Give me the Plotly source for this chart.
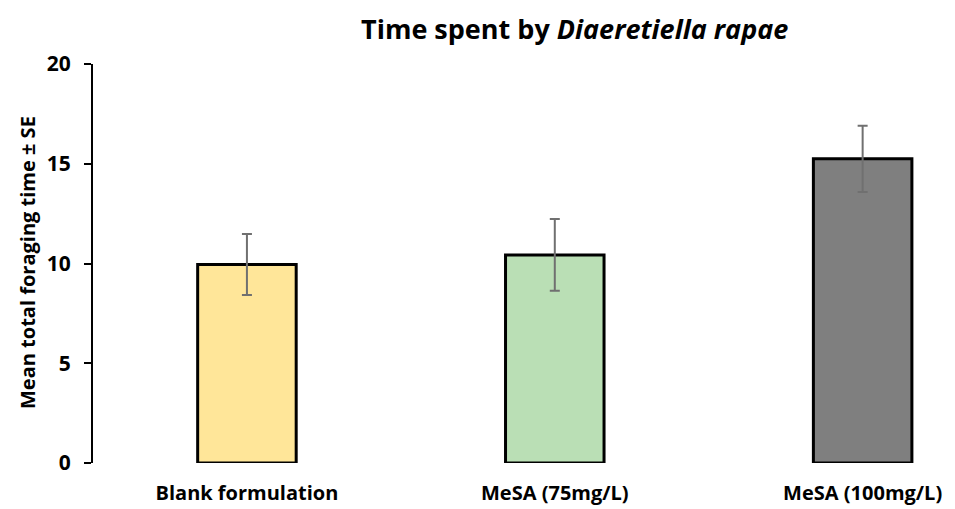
import plotly.graph_objects as go

categories = ["Blank formulation", "MeSA (75mg/L)", "MeSA (100mg/L)"]
means = [9.95, 10.43, 15.25]
se = [1.53, 1.8, 1.66]
colors = ["#FFE699", "#BADFB5", "#7F7F7F"]
y_ticks = [0, 5, 10, 15, 20]

FONT = "Open Sans"

# page body has an 8px offset; plot area spans x 93..955, y 64..463 on screen
PX0, PX1, PY0, PY1 = 93, 955, 64, 463
def px(x):
    return (x - PX0) / (PX1 - PX0)
def py(y):
    return (PY1 - y) / (PY1 - PY0)

fig = go.Figure()
fig.add_trace(go.Bar(
    x=list(range(len(categories))),
    y=means,
    width=0.32,
    marker=dict(color=colors, line=dict(color="black", width=3)),
    error_y=dict(type="data", array=se, visible=True, color="#707070",
                 thickness=2, width=5),
    showlegend=False,
))

fig.update_layout(
    width=947, height=501,
    margin=dict(l=85, r=0, t=56, b=46, pad=0),
    paper_bgcolor="white", plot_bgcolor="white",
    font=dict(family=FONT, color="black"),
    annotations=[
        dict(text="<b>Time spent by <i>Diaeretiella rapae</i></b>",
             x=px(574), y=py(28), xref="paper", yref="paper",
             xanchor="center", yanchor="middle", showarrow=False,
             font=dict(size=27, family=FONT, color="black")),
        dict(text="<b>Mean total foraging time ± SE</b>",
             x=px(27), y=py(263), xref="paper", yref="paper",
             xanchor="center", yanchor="middle", showarrow=False,
             textangle=-90,
             font=dict(size=20, family=FONT, color="black")),
    ],
)

fig.update_xaxes(
    range=[-0.5, 2.3],
    tickmode="array", tickvals=list(range(len(categories))),
    ticktext=[f"<b>{c}</b>" for c in categories],
    showline=False, showgrid=False, zeroline=False,
    ticks="", ticklabelstandoff=16,
    tickfont=dict(size=20, family=FONT, color="black"),
)
fig.update_yaxes(
    range=[0, 20],
    tickmode="array", tickvals=y_ticks,
    ticktext=[f"<b>{t}</b>" for t in y_ticks],
    showline=True, linecolor="black", linewidth=2,
    ticks="outside", ticklen=7, tickwidth=2, tickcolor="black",
    ticklabelstandoff=9,
    showgrid=False, zeroline=False,
    tickfont=dict(size=21, family=FONT, color="black"),
)

fig.write_html("out.html")
